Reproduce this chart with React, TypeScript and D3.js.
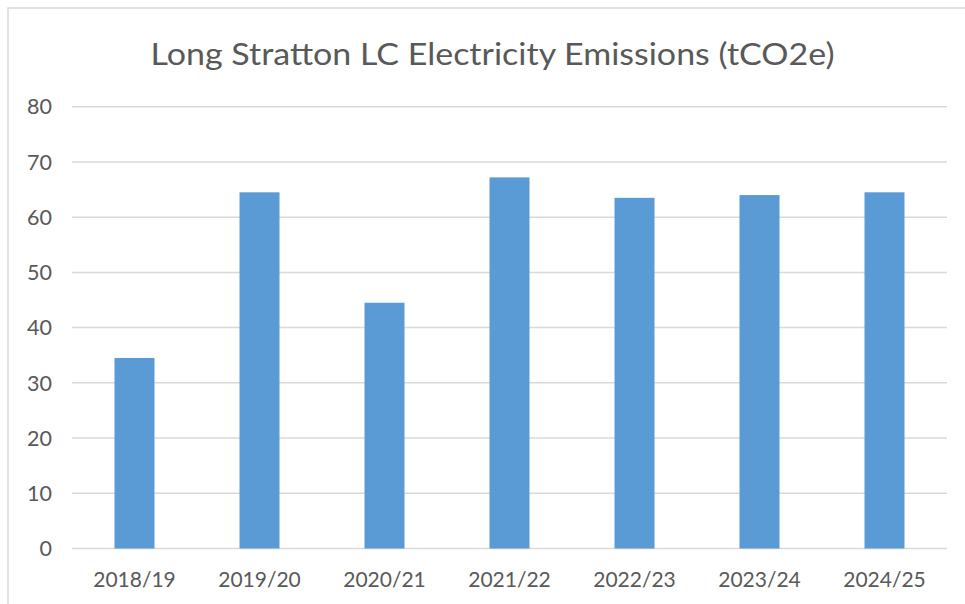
import React from "react";
import * as d3 from "d3";

const categories = ["2018/19", "2019/20", "2020/21", "2021/22", "2022/23", "2023/24", "2024/25"];
const values = [34.5, 64.5, 44.5, 67.2, 63.5, 64.0, 64.5];
const yTicks = [0, 10, 20, 30, 40, 50, 60, 70, 80];
const title = "Long Stratton LC Electricity Emissions (tCO2e)";

const W = 965;
const H = 604;
const plot = { left: 72, right: 947, top: 106.7, bottom: 548.5 };
const font = "Lato, 'Open Sans', sans-serif";

export default function App() {
  const x = d3
    .scaleBand<string>()
    .domain(categories)
    .range([plot.left, plot.right])
    .paddingInner(0.68)
    .paddingOuter(0.34);
  const y = d3.scaleLinear().domain([0, 80]).range([plot.bottom, plot.top]);

  return (
    <svg
      width={W}
      height={H}
      style={{ position: "absolute", left: 0, top: 0, background: "#fff" }}
    >
      <rect x={8} y={8} width={1200} height={1200} fill="#fff" stroke="#D9D9D9" strokeWidth={1.5} />
      <text
        x={492.5}
        y={64.7}
        textAnchor="middle"
        fontFamily={font}
        fontSize={31.5}
        textLength={684}
        lengthAdjust="spacingAndGlyphs"
        fill="#595959"
      >
        {title}
      </text>
      {yTicks.map((t) => (
        <g key={t}>
          <line
            x1={plot.left}
            x2={plot.right}
            y1={y(t)}
            y2={y(t)}
            stroke="#D9D9D9"
            strokeWidth={1.5}
          />
          <text
            x={52}
            y={y(t)}
            dy="0.36em"
            textAnchor="end"
            fontFamily={font}
            fontSize={21.5}
            fill="#595959"
          >
            {t}
          </text>
        </g>
      ))}
      {categories.map((c, i) => (
        <g key={c}>
          <rect
            x={x(c)}
            y={y(values[i])}
            width={x.bandwidth()}
            height={y(0) - y(values[i])}
            fill="#5B9BD5"
          />
          <text
            x={(x(c) as number) + x.bandwidth() / 2}
            y={587}
            textAnchor="middle"
            fontFamily={font}
            fontSize={21}
            fill="#595959"
          >
            {c}
          </text>
        </g>
      ))}
    </svg>
  );
}
